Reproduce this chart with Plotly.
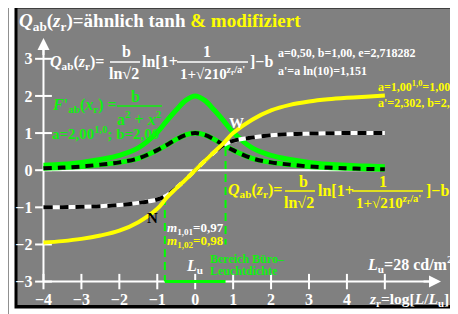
import plotly.graph_objects as go

# ---------------- data ----------------
z_values = [-4, -3.5, -3, -2.5, -2, -1.5, -1, -0.75, -0.5, -0.25, 0,
            0.25, 0.5, 0.75, 1, 1.5, 2, 2.5, 3, 3.5, 4, 4.5, 5]
q_yellow = [-1.95, -1.91, -1.85, -1.76, -1.63, -1.40, -1.04, -0.74, -0.49, -0.25, 0.0,
            0.25, 0.49, 0.73, 1.00, 1.36, 1.61, 1.76, 1.85, 1.91, 1.95, 1.98, 2.01]
q_blackwhite = [-1.0, -0.995, -0.985, -0.97, -0.94, -0.88, -0.79, -0.68, -0.48, -0.25, 0.0,
                0.25, 0.48, 0.68, 0.79, 0.88, 0.94, 0.97, 0.985, 0.995, 1.0, 1.0, 1.0]
q_green_solid = [0.13, 0.16, 0.21, 0.29, 0.40, 0.60, 1.02, 1.33, 1.62, 1.88, 2.0,
                 1.88, 1.62, 1.33, 1.02, 0.60, 0.40, 0.29, 0.21, 0.16, 0.13, 0.11, 0.09]
q_green_dashed = [0.05, 0.07, 0.10, 0.15, 0.21, 0.32, 0.54, 0.68, 0.83, 0.95, 1.0,
                  0.95, 0.83, 0.68, 0.54, 0.32, 0.21, 0.15, 0.10, 0.07, 0.05, 0.035, 0.025]
zero_line_z = [-4, 5]
zero_line_q = [0, 0]
x_ticks = [-4, -3, -2, -1, 0, 1, 2, 3, 4, 5]
x_ticklabels = [-4, -3, -2, -1, 0, 1, 2, 3, 4]
y_ticks = [-3, -2, -1, 0, 1, 2, 3]
region_left_z, region_left_q = [-0.8, -0.8], [-0.72, -3.0]
region_bottom_z, region_bottom_q = [-0.8, 0.8], [-3.0, -3.0]
region_right_z, region_right_q = [0.8, 0.8], [0.6, -2.0]
axis_origin = (-4, -3)
x_axis_end = 6.48
y_axis_end = 3.56

# ---------------- geometry ----------------
# The page body has an 8px margin, so the figure is 8px smaller and all
# reference pixel positions are shifted by OFF.
OFF = 8
W, H = 458 - OFF, 314 - OFF
X0, SX = 195.2 - OFF, 37.93   # figure pixel of z=0, pixels per unit
Y0, SY = 170.2 - OFF, 37.13   # figure pixel of Q=0, pixels per unit
SERIF = "Liberation Serif"
YEL = "#ffff00"
GRN = "#00ff00"
GTXT = "#10f010"
BG = "#808080"

fig = go.Figure()

# zero line
fig.add_trace(go.Scatter(x=zero_line_z, y=zero_line_q, mode="lines",
                         line=dict(color="white", width=2), hoverinfo="skip"))
# axis lines
fig.add_trace(go.Scatter(x=[axis_origin[0], x_axis_end - 0.2], y=[axis_origin[1], axis_origin[1]],
                         mode="lines", line=dict(color="white", width=2), hoverinfo="skip"))
fig.add_trace(go.Scatter(x=[axis_origin[0], axis_origin[0]], y=[axis_origin[1], y_axis_end - 0.2],
                         mode="lines", line=dict(color="white", width=2), hoverinfo="skip"))
# tick marks
fig.add_trace(go.Scatter(x=x_ticks, y=[axis_origin[1]] * len(x_ticks), mode="markers",
                         marker=dict(symbol="line-ns", size=11, line=dict(color="white", width=2)),
                         hoverinfo="skip"))
fig.add_trace(go.Scatter(x=[axis_origin[0]] * len(y_ticks), y=y_ticks, mode="markers",
                         marker=dict(symbol="line-ew", size=12, line=dict(color="white", width=2)),
                         hoverinfo="skip"))

# region lines
fig.add_trace(go.Scatter(x=region_left_z, y=region_left_q, mode="lines",
                         line=dict(color=GRN, width=2, dash="8px,5px"), hoverinfo="skip"))
fig.add_trace(go.Scatter(x=region_right_z, y=region_right_q, mode="lines",
                         line=dict(color=GRN, width=2, dash="8px,5px"), hoverinfo="skip"))
fig.add_trace(go.Scatter(x=region_bottom_z, y=region_bottom_q, mode="lines",
                         line=dict(color=GRN, width=3), hoverinfo="skip"))

# green solid
fig.add_trace(go.Scatter(x=z_values, y=q_green_solid, mode="lines", line_shape="spline",
                         line=dict(color=GRN, width=5), hoverinfo="skip"))
# green / black dashed
fig.add_trace(go.Scatter(x=z_values, y=q_green_dashed, mode="lines", line_shape="spline",
                         line=dict(color=GRN, width=5), hoverinfo="skip"))
fig.add_trace(go.Scatter(x=z_values, y=q_green_dashed, mode="lines", line_shape="spline",
                         line=dict(color="black", width=4, dash="8px,6px"), hoverinfo="skip"))
# black / white dashed
fig.add_trace(go.Scatter(x=z_values, y=q_blackwhite, mode="lines", line_shape="spline",
                         line=dict(color="white", width=4), hoverinfo="skip"))
fig.add_trace(go.Scatter(x=z_values, y=q_blackwhite, mode="lines", line_shape="spline",
                         line=dict(color="black", width=4, dash="9px,7px"), hoverinfo="skip"))
# yellow
fig.add_trace(go.Scatter(x=z_values, y=q_yellow, mode="lines", line_shape="spline",
                         line=dict(color=YEL, width=4), hoverinfo="skip"))

# arrow heads
fig.add_annotation(x=x_axis_end, y=axis_origin[1], ax=x_axis_end - 0.5, ay=axis_origin[1],
                   xref="x", yref="y", axref="x", ayref="y", text="", showarrow=True,
                   arrowhead=2, arrowsize=1.2, arrowwidth=2, arrowcolor="white")
fig.add_annotation(x=axis_origin[0], y=y_axis_end, ax=axis_origin[0], ay=y_axis_end - 0.5,
                   xref="x", yref="y", axref="x", ayref="y", text="", showarrow=True,
                   arrowhead=2, arrowsize=1.2, arrowwidth=2, arrowcolor="white")


def P(x, y):
    """reference page pixel -> paper coordinates"""
    return (x - OFF) / W, 1 - (y - OFF) / H


def txt(x, y, s, size, color="white", xanchor="left"):
    px, py = P(x, y)
    fig.add_annotation(x=px, y=py, xref="paper", yref="paper", text=s, showarrow=False,
                       xanchor=xanchor, yanchor="middle", borderpad=0,
                       font=dict(size=size, color=color, family=SERIF, weight="bold"))


def bar(x0, x1, y, color="white", width=1.5):
    a, b = P(x0, y)
    c, _ = P(x1, y)
    fig.add_shape(type="line", xref="paper", yref="paper", x0=a, x1=c, y0=b, y1=b,
                  line=dict(color=color, width=width), layer="above")


QAB = "<i>Q</i><sub>ab</sub>(<i>z</i><sub>r</sub>)="
DEN = "1+√210<sup><i>z</i><sub>r</sub>/a'</sup>"

# title
txt(18, 22, QAB + "ähnlich tanh <span style='color:#ffff00'>&amp; modifiziert</span>", 19)

# white formula
txt(49, 62, QAB, 16)
txt(126.5, 52, "b", 16, xanchor="center")
bar(110, 140, 62)
txt(124, 73, "ln√2", 16, xanchor="center")
txt(141, 61, "ln[1+", 16)
txt(206.5, 52, "1", 16, xanchor="center")
bar(177, 248, 62)
txt(212, 73, DEN, 15, xanchor="center")
txt(249, 61, "]−b", 16)
txt(277, 53, "a=0,50, b=1,00, e=2,718282", 12)
txt(277, 71, "a'=a ln(10)=1,151", 12)

# yellow params
txt(377, 86, "a=1,00<sup>1,0</sup>=1,000", 12, YEL)
txt(377, 103, "a'=2,302, b=2,0", 12, YEL)

# green formula
txt(51, 106, "<i>F</i>'<sub>ab</sub>(<i>x</i><sub>r</sub>) =", 16, GTXT)
txt(135, 96, "b", 16, GTXT, xanchor="center")
bar(117, 162, 106, GTXT)
txt(139, 118, "a<sup>2</sup> + <i>x</i><sup>2</sup>", 16, GTXT, xanchor="center")
txt(51, 133, "a=2,00<sup>1,0</sup>; b=2,00", 15, GTXT)

# W and N
txt(236.5, 123, "W", 15, "white", xanchor="center")
txt(152, 218, "N", 15, "black", xanchor="center")

# yellow formula
txt(227, 190, QAB, 16, YEL)
txt(303, 181, "b", 16, YEL, xanchor="center")
bar(285, 315, 191, YEL)
txt(299, 202, "ln√2", 16, YEL, xanchor="center")
txt(317, 190, "ln[1+", 16, YEL)
txt(383, 181, "1", 16, YEL, xanchor="center")
bar(352, 423, 191, YEL)
txt(388, 202, DEN, 15, YEL, xanchor="center")
txt(425, 190, "]−b", 16, YEL)

# m labels
txt(166, 228, "<i>m</i><sub>1,01</sub>=0,97", 13, "white")
txt(166, 242, "<i>m</i><sub>1,02</sub>=0,98", 13, YEL)

# Lu, region text
txt(185, 266, "<i>L</i><sub>u</sub>", 16, "white")
txt(209, 259, "Bereich Büro–", 12, GTXT)
txt(209, 271, "Leuchtdichte", 12, GTXT)
txt(366, 264, "<i>L</i><sub>u</sub>=28 cd/m<sup>2</sup>", 16, "white")
txt(368, 299, "<i>z</i><sub>r</sub>=log[<i>L</i>/<i>L</i><sub>u</sub>]", 15.5, "white")


# frame shapes
def rect(x0, y0, x1, y1, color):
    a, b = P(x0, y0)
    c, d = P(x1, y1)
    fig.add_shape(type="rect", xref="paper", yref="paper", x0=a, x1=c, y0=d, y1=b,
                  fillcolor=color, line=dict(width=0), layer="below")


rect(14.5, 6, 470, 308.5, "black")
rect(17.5, 8.5, 470, 305, BG)
rect(7.5, 0, 8.7, 330, "#606060")

fig.update_layout(
    template="none",
    width=W, height=H,
    margin=dict(l=0, r=0, t=0, b=0, pad=0),
    paper_bgcolor="white", plot_bgcolor="white",
    showlegend=False,
    xaxis=dict(range=[(0 - X0) / SX, (W - X0) / SX], showgrid=False, zeroline=False,
               showline=False, ticks="", tickvals=x_ticklabels,
               ticktext=[("−" + str(-v)) if v < 0 else str(v) for v in x_ticklabels],
               tickfont=dict(family=SERIF, size=16, color="white", weight="bold"),
               anchor="free", position=1 - (Y0 + 3 * SY) / H, automargin=False,
               ticklabelstandoff=6, fixedrange=True),
    yaxis=dict(range=[(Y0 - H) / SY, Y0 / SY], showgrid=False, zeroline=False,
               showline=False, ticks="", tickvals=y_ticks,
               ticktext=[("−" + str(-v)) if v < 0 else str(v) for v in y_ticks],
               tickfont=dict(family=SERIF, size=16, color="white", weight="bold"),
               anchor="free", position=(X0 - 4 * SX) / W, automargin=False,
               ticklabelstandoff=11, fixedrange=True),
)

fig.write_html("out.html")
